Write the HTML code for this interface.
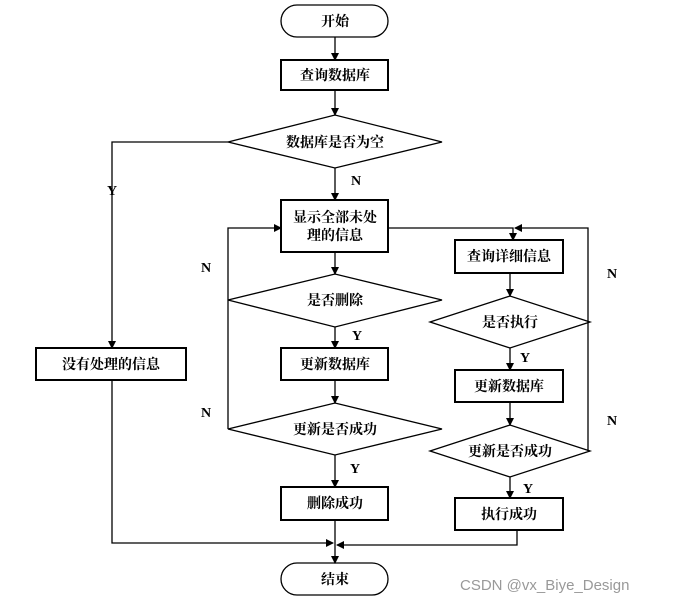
<!DOCTYPE html>
<html><head><meta charset="utf-8"><style>
html,body{margin:0;padding:0;background:#fff;}
svg text{font-family:"Liberation Serif","Noto Serif CJK SC",serif;font-weight:bold;font-size:14px;fill:#000;}
</style></head><body>
<svg width="680" height="606" viewBox="0 0 680 606" xmlns="http://www.w3.org/2000/svg">
<defs><marker id="a" markerWidth="8" markerHeight="8" refX="7" refY="4" orient="auto" markerUnits="userSpaceOnUse"><path d="M0,0 L8,4 L0,8 z" fill="#000"/></marker></defs>
<g fill="none" stroke="#000" stroke-width="1.3">
<rect x="281" y="5" width="107" height="32" rx="16"/>
<rect x="281" y="60" width="107" height="30" stroke-width="2"/>
<polygon points="228,142 335,115 442,142 335,168"/>
<rect x="281" y="200" width="107" height="52" stroke-width="2"/>
<polygon points="228,300 335,274 442,300 335,327"/>
<rect x="281" y="348" width="107" height="32" stroke-width="2"/>
<polygon points="228,429 335,403 442,429 335,455"/>
<rect x="281" y="487" width="107" height="33" stroke-width="2"/>
<rect x="281" y="563" width="107" height="32" rx="16"/>
<rect x="36" y="348" width="150" height="32" stroke-width="2"/>
<rect x="455" y="240" width="108" height="33" stroke-width="2"/>
<polygon points="430,322 510,296 590,322 510,348"/>
<rect x="455" y="370" width="108" height="32" stroke-width="2"/>
<polygon points="430,451 510,425 590,451 510,477"/>
<rect x="455" y="498" width="108" height="32" stroke-width="2"/>
<g marker-end="url(#a)">
<line x1="335" y1="37" x2="335" y2="60"/>
<line x1="335" y1="90" x2="335" y2="115"/>
<line x1="335" y1="168" x2="335" y2="200"/>
<line x1="335" y1="252" x2="335" y2="274"/>
<line x1="335" y1="327" x2="335" y2="348"/>
<line x1="335" y1="380" x2="335" y2="403"/>
<line x1="335" y1="455" x2="335" y2="487"/>
<line x1="335" y1="520" x2="335" y2="563"/>
<polyline points="228,142 112,142 112,348"/>
<polyline points="228,300 228,228 281,228"/>
<polyline points="388,228 513,228 513,240"/>
<polyline points="588,322 588,228 515,228"/>
<line x1="510" y1="273" x2="510" y2="296"/>
<line x1="510" y1="348" x2="510" y2="370"/>
<line x1="510" y1="402" x2="510" y2="425"/>
<line x1="510" y1="477" x2="510" y2="498"/>
<polyline points="112,380 112,543 333,543"/>
<polyline points="517,530 517,545 337,545"/>
</g>
<line x1="228" y1="429" x2="228" y2="300"/>
<line x1="590" y1="451" x2="588" y2="451"/>
<line x1="588" y1="451" x2="588" y2="322"/>
</g>
<g text-anchor="middle">
<text x="335" y="26">开始</text>
<text x="335" y="80">查询数据库</text>
<text x="335" y="147">数据库是否为空</text>
<text x="335" y="222">显示全部未处</text>
<text x="335" y="240">理的信息</text>
<text x="335" y="305">是否删除</text>
<text x="335" y="369">更新数据库</text>
<text x="335" y="434">更新是否成功</text>
<text x="335" y="508">删除成功</text>
<text x="335" y="584">结束</text>
<text x="111" y="369">没有处理的信息</text>
<text x="509" y="261">查询详细信息</text>
<text x="510" y="327">是否执行</text>
<text x="509" y="391">更新数据库</text>
<text x="510" y="456">更新是否成功</text>
<text x="509" y="519">执行成功</text>
<text x="112" y="195">Y</text>
<text x="356" y="185">N</text>
<text x="357" y="340">Y</text>
<text x="355" y="473">Y</text>
<text x="206" y="272">N</text>
<text x="206" y="417">N</text>
<text x="525" y="362">Y</text>
<text x="528" y="493">Y</text>
<text x="612" y="278">N</text>
<text x="612" y="425">N</text>
</g>
<text x="460" y="590" style="font-family:'Liberation Sans',sans-serif;font-weight:normal;font-size:15px;fill:#999">CSDN @vx_Biye_Design</text>
</svg>
</body></html>
